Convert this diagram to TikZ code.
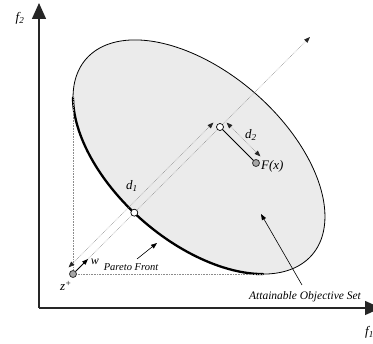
\documentclass[tikz,border=0pt]{standalone}
\usepackage{fontspec}
\setmainfont{Liberation Serif}
\usetikzlibrary{arrows.meta}
\begin{document}
\begin{tikzpicture}[x=1pt,y=-1pt,
  axisline/.style={line width=1.3pt, draw=black!85, -{Triangle[length=16pt,width=14pt]}},
  guide/.style={densely dotted, draw=black!45, line width=0.6pt},
  dimline/.style={guide, {Triangle[length=6pt,width=4.5pt,color=black!85]}-{Triangle[length=6pt,width=4.5pt,color=black!85]}, shorten <=1.5pt, shorten >=1.5pt},
  rayline/.style={guide, -{Triangle[length=6pt,width=4.5pt,color=black!85]}},
  pointer/.style={draw=black, line width=0.6pt, -{Triangle[length=6pt,width=4.5pt]}},
  hollowpt/.style={circle, draw=black, line width=0.7pt, fill=white, inner sep=0pt, minimum size=7pt},
  graypt/.style={circle, draw=black!80, line width=0.8pt, fill=black!35, inner sep=0pt, minimum size=7pt},
  lbl/.style={font=\itshape\fontsize{13}{15}\selectfont, inner sep=0pt},
  smalllbl/.style={font=\itshape\fontsize{11.5}{13}\selectfont, inner sep=0pt}
]
\useasboundingbox (0,0) rectangle (373,344);
% ellipse (attainable set)
\def\ea{149.5}\def\eb{84.9}
\fill[black!8, draw=black, line width=0.8pt]
  plot[domain=0:360, samples=240, smooth cycle]
  ({199+\ea*cos(\x)*0.756-\eb*sin(\x)*0.655},{157+\ea*cos(\x)*0.655+\eb*sin(\x)*0.756});
% Pareto front (thick arc)
\draw[line width=2.3pt, black, line cap=round]
  plot[domain=33.3:153.8, samples=120, smooth]
  ({199+\ea*cos(\x)*0.756-\eb*sin(\x)*0.655},{157+\ea*cos(\x)*0.655+\eb*sin(\x)*0.756});
% coordinates
\coordinate (O) at (39,308);
\coordinate (Ytip) at (39,3);
\coordinate (Xtip) at (381,308);
\coordinate (L) at (73,97.5);
\coordinate (B) at (263,274);
\coordinate (Rtip) at (310,37);
\coordinate (d1a) at (67.5,268.5);
\coordinate (d1b) at (214.5,121.5);
\coordinate (d2a) at (225.5,121.5);
\coordinate (d2b) at (261.5,157.5);
\coordinate (wtip) at (88,259);
\coordinate (pfa) at (137,259);
\coordinate (pfb) at (157,243);
\coordinate (asa) at (302,285);
\coordinate (asb) at (261,214);
% axes
\draw[axisline] (O) -- (Ytip);
\draw[axisline] (O) -- (Xtip);
% guide lines
\draw[guide] (73,274) -- (L);
\draw[guide] (73,274) -- (B);
\draw[rayline] (73,274) -- (Rtip);
\draw[dimline] (d1a) -- (d1b);
\draw[dimline] (d2a) -- (d2b);
% points
\node[graypt] (zs) at (73,274) {};
\node[hollowpt] (P) at (134.3,212.7) {};
\node[hollowpt] (Q) at (220,127) {};
\node[graypt] (F) at (256,163) {};
\draw[line width=0.8pt] (Q) -- (F);
\draw[line width=0.8pt, -{Triangle[length=6pt,width=4.5pt]}] (zs) -- (wtip);
\draw[pointer] (pfa) -- (pfb);
\draw[pointer] (asa) -- (asb);
% labels
\node[lbl] (f2) at (20,18) {f\textsubscript{2}};
\node[lbl, anchor=west] (f1) at (365,332) {f\textsubscript{1}};
\node[lbl] (d1) at (132,186) {d\textsubscript{1}};
\node[lbl] (d2) at (251,135) {d\textsubscript{2}};
\node[lbl, anchor=west] (Fx) at (261,166) {F(x)};
\node[lbl, font=\itshape\fontsize{12}{14}\selectfont] (w) at (95,262) {w};
\node[lbl] (zl) at (66,286) {z\textsuperscript{+}};
\node[smalllbl, font=\itshape\fontsize{10.5}{12}\selectfont] (pf) at (131,267) {Pareto Front};
\node[smalllbl] (as) at (305,297) {Attainable Objective Set};
\end{tikzpicture}
\end{document}
